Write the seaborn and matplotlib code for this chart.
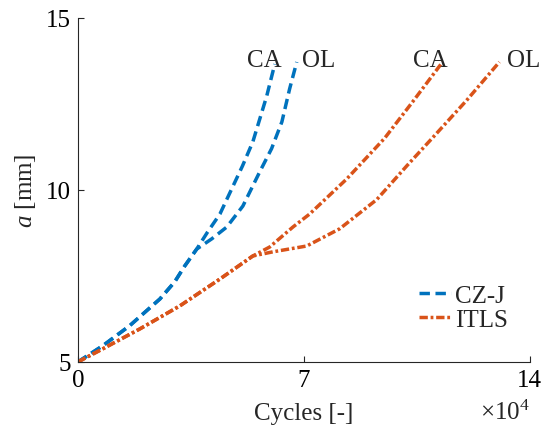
import matplotlib
matplotlib.use('Agg')
import matplotlib.pyplot as plt
import seaborn as sns
import pandas as pd

# Crack length a [mm] vs cycles (x in units of 1e4 cycles)
czj_shared_x = [0, 0.77, 1.6, 2.54, 3.0, 3.31, 3.68]
czj_shared_y = [5, 5.47, 6.05, 6.83, 7.33, 7.79, 8.28]
czj_ca_x = [4.02, 4.4, 4.8, 5.1, 5.42, 5.85, 6.1]
czj_ca_y = [8.78, 9.3, 10.1, 10.7, 11.4, 12.73, 13.66]
czj_ol_x = [4.15, 4.61, 5.11, 5.63, 6.0, 6.32, 6.56, 6.78]
czj_ol_y = [8.58, 8.92, 9.53, 10.52, 11.2, 11.98, 12.94, 13.72]

itls_shared_x = [0, 0.77, 1.92, 3.16, 4.4, 5.42]
itls_shared_y = [5, 5.38, 5.96, 6.63, 7.41, 8.08]
itls_ca_x = [5.94, 6.66, 7.18, 8.33, 9.5, 10.37, 11.3]
itls_ca_y = [8.34, 8.92, 9.3, 10.32, 11.5, 12.56, 13.72]
itls_ol_x = [6.04, 7.09, 8.11, 9.26, 10.19, 11.1, 12.04, 13.06]
itls_ol_y = [8.2, 8.37, 8.87, 9.72, 10.7, 11.63, 12.6, 13.72]

colors = {'CZ-J': '#0072BD', 'ITLS': '#D95319'}

rows = []
def add(model, path, xs, ys):
    for x, y in zip(xs, ys):
        rows.append({'model': model, 'path': model + ' ' + path,
                     'cycles': x, 'a': y})

add('CZ-J', 'CA', czj_shared_x + czj_ca_x, czj_shared_y + czj_ca_y)
add('CZ-J', 'OL', czj_shared_x + czj_ol_x, czj_shared_y + czj_ol_y)
add('ITLS', 'CA', itls_shared_x + itls_ca_x, itls_shared_y + itls_ca_y)
add('ITLS', 'OL', itls_shared_x + itls_ol_x, itls_shared_y + itls_ol_y)
df = pd.DataFrame(rows)

sns.set_style('ticks')
plt.rcParams['font.family'] = ['Liberation Serif', 'DejaVu Serif']
plt.rcParams['mathtext.fontset'] = 'custom'
plt.rcParams['mathtext.rm'] = 'Liberation Serif'
plt.rcParams['mathtext.it'] = 'Liberation Serif:italic'
plt.rcParams['xtick.direction'] = 'in'
plt.rcParams['ytick.direction'] = 'in'

fig = plt.figure(figsize=(5.45, 4.31), dpi=100)
ax = fig.add_axes([0.143, 0.158, 0.829, 0.798])

sns.lineplot(data=df, x='cycles', y='a', hue='model', style='model',
             units='path', estimator=None, sort=False, palette=colors,
             dashes={'CZ-J': (3, 1.6), 'ITLS': (2.4, 0.8, 0.8, 0.8)},
             linewidth=2.5, ax=ax)

ax.set_xlim(0, 14)
ax.set_ylim(5, 15)
ax.set_xticks([0, 7, 14])
ax.set_yticks([5, 10, 15])
ax.tick_params(labelsize=18, length=4, width=0.8, colors='#262626',
               labelcolor='black', pad=5)
for s in ['left', 'bottom']:
    ax.spines[s].set_linewidth(0.8)
    ax.spines[s].set_color('#262626')
sns.despine(ax=ax)

ax.set_xlabel('Cycles [-]', fontsize=18, labelpad=8)
ax.set_ylabel('$a$ [mm]', fontsize=18, labelpad=6)
ax.text(14, 3.9, r'$\times 10^4$', fontsize=18, ha='right', va='top')

# curve-end labels
ax.text(6.3, 13.6, 'CA', fontsize=18, ha='right', va='baseline')
ax.text(6.93, 13.6, 'OL', fontsize=18, ha='left', va='baseline')
ax.text(11.45, 13.6, 'CA', fontsize=18, ha='right', va='baseline')
ax.text(13.28, 13.6, 'OL', fontsize=18, ha='left', va='baseline')

handles, labels = ax.get_legend_handles_labels()
ax.legend(handles, labels, loc='lower right', bbox_to_anchor=(0.99, 0.04),
          frameon=False, fontsize=18, handlelength=1.3, handletextpad=0.15,
          labelspacing=0.05, borderpad=0.2)

fig.savefig('out.png', dpi=100)
